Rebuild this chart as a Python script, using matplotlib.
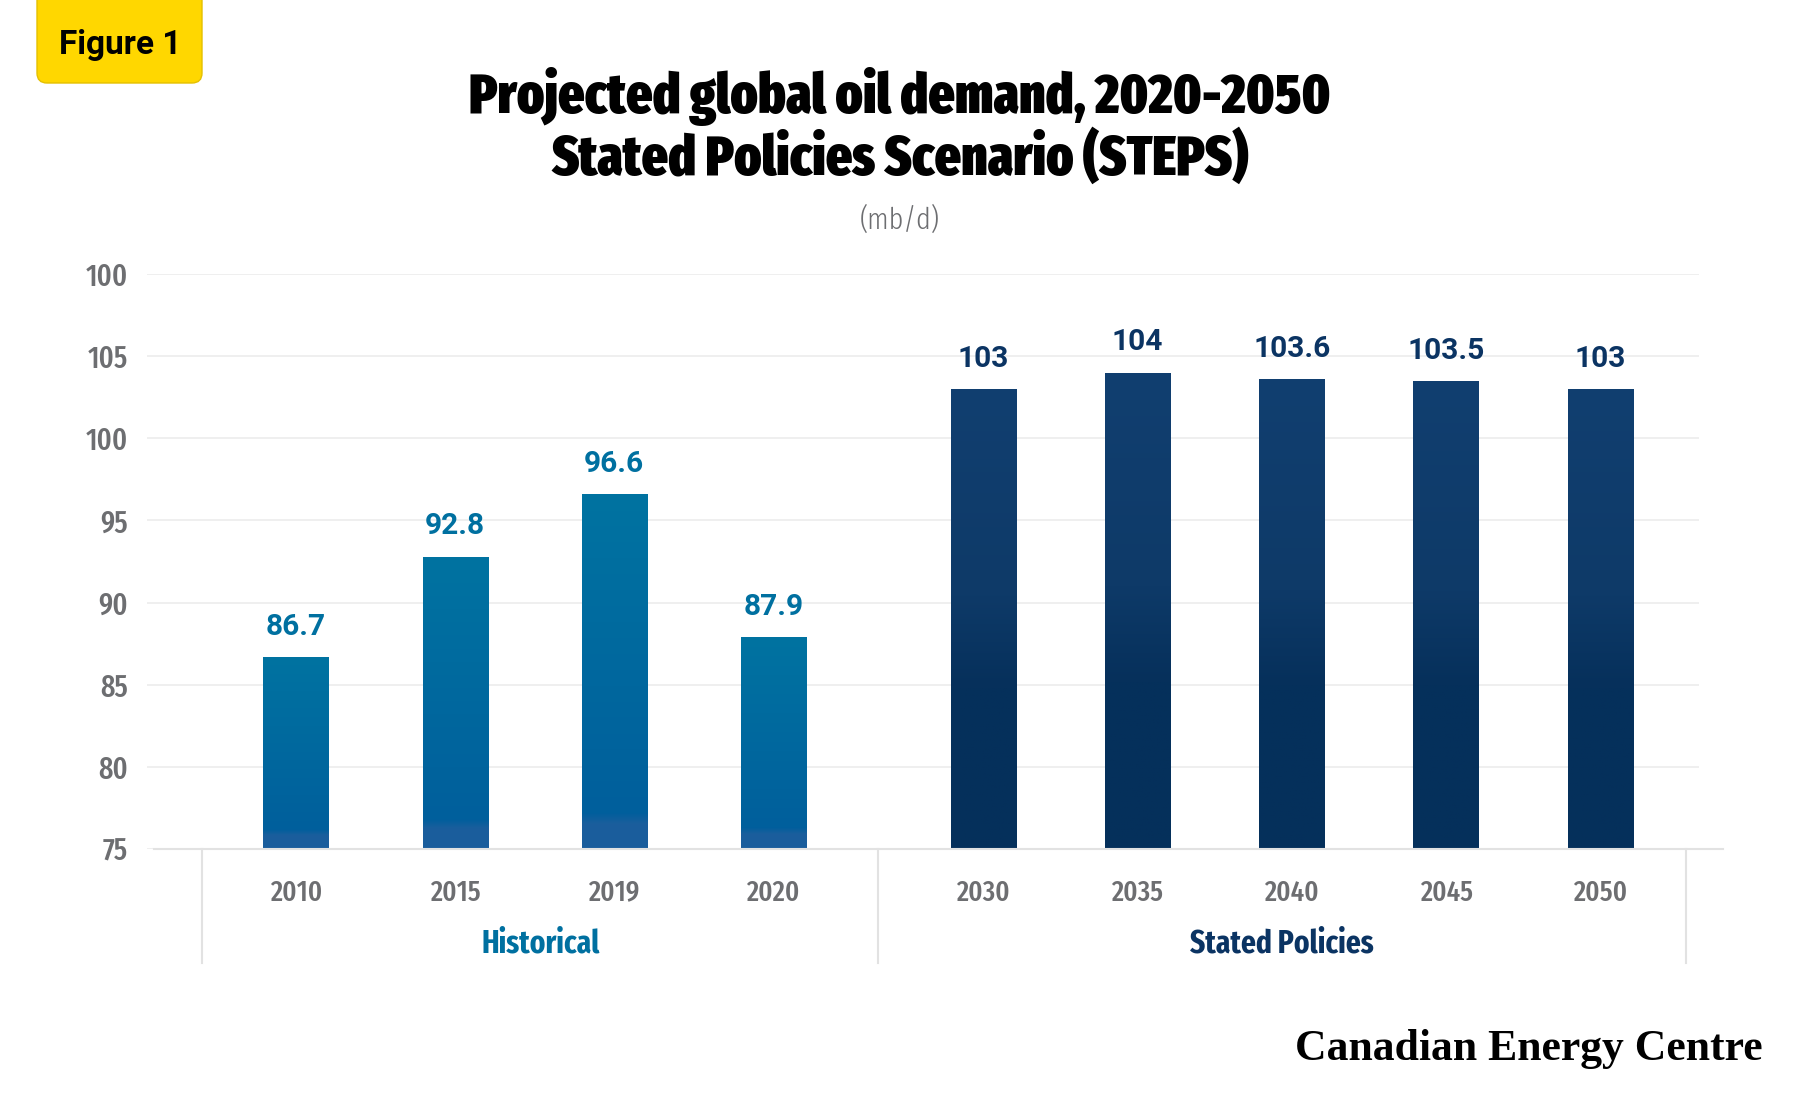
import matplotlib
matplotlib.use("Agg")
import matplotlib.pyplot as plt
import numpy as np
from matplotlib import font_manager as fm
from matplotlib.colors import LinearSegmentedColormap
from matplotlib.patches import FancyBboxPatch
import matplotlib.transforms as mtrans

# data
hist_years = ["2010", "2015", "2019", "2020"]
hist_vals = [86.7, 92.8, 96.6, 87.9]
steps_years = ["2030", "2035", "2040", "2045", "2050"]
steps_vals = [103, 104, 103.6, 103.5, 103]
group_names = ["Historical", "Stated Policies"]
y_ticks = [75, 80, 85, 90, 95, 100, 105, 110]
y_ticklabels = ["75", "80", "85", "90", "95", "100", "105", "100"]

# fonts: look for condensed faces, fall back to Roboto
names = {f.name for f in fm.fontManager.ttflist}
SANS = "Roboto" if "Roboto" in names else "Liberation Sans"
SERIF = "Liberation Serif" if "Liberation Serif" in names else "DejaVu Serif"


def wclass(name):
    n = name.replace(" ", "")
    if "ExtraCondensed" in n:
        return "extra"
    if "SemiCondensed" in n:
        return "semi"
    if "Condensed" in n or "Narrow" in n:
        return "cond"
    return None


def wnum(w):
    return w if isinstance(w, (int, float)) else fm.weight_dict.get(w, 400)


def cond_font(size, weight, widths=("extra", "cond", "semi")):
    cands = [f for f in fm.fontManager.ttflist
             if f.style == "normal" and wclass(f.name) in widths
             and f.fname.lower().endswith((".ttf", ".otf"))]
    if not cands:
        return fm.FontProperties(family=SANS, size=size, weight=weight)
    best = min(cands, key=lambda f: (widths.index(wclass(f.name)),
                                     abs(wnum(f.weight) - weight)))
    return fm.FontProperties(fname=best.fname, size=size)


GRAY = "#6D6E71"
HIST_C = "#0070A0"
STEPS_C = "#0B3463"
hist_cmap = LinearSegmentedColormap.from_list(
    "hist", [(0, "#0073A1"), (0.9, "#005F9C"), (0.93, "#1A5E9D"), (1, "#1B5D9C")])
steps_cmap = LinearSegmentedColormap.from_list(
    "steps", [(0, "#113F70"), (0.45, "#0E3A68"), (0.65, "#06305B"), (1, "#05305B")])

fig = plt.figure(figsize=(18, 11), dpi=100)
ax = fig.add_axes([147 / 1800, 1 - 849 / 1100, (1699 - 147) / 1800, (849 - 274) / 1100])

floor = y_ticks[0]
hist_x = np.arange(len(hist_vals)) * 1.0
steps_x = 4.32 + np.arange(len(steps_vals)) * 0.97
bw = 0.41


def gradient_bars(xs, vals, cmap, color):
    bars = ax.bar(xs, np.array(vals) - floor, bottom=floor, width=bw,
                  color=color, linewidth=0, zorder=2)
    grad = np.linspace(0, 1, 256).reshape(-1, 1)
    for b, v in zip(bars, vals):
        x0 = b.get_x()
        im = ax.imshow(grad, cmap=cmap, aspect="auto", zorder=3,
                       extent=(x0, x0 + b.get_width(), floor, v))
        im.set_clip_path(b)
        ax.annotate(f"{v:g}", (b.get_x() + b.get_width() / 2, v),
                    xytext=(0, 16), textcoords="offset points",
                    ha="center", va="baseline", fontsize=21.5,
                    fontweight="bold", family=SANS, color=color)


gradient_bars(hist_x, hist_vals, hist_cmap, HIST_C)
gradient_bars(steps_x, steps_vals, steps_cmap, STEPS_C)

ax.set_xlim(-0.937, 8.82)
ax.set_ylim(floor, y_ticks[-1])
ax.set_yticks(y_ticks)
ax.set_yticklabels(y_ticklabels)
ax.set_xticks(list(hist_x) + list(steps_x))
ax.set_xticklabels(hist_years + steps_years)
ax.tick_params(axis="y", length=0, pad=14, labelcolor=GRAY)
ax.tick_params(axis="x", length=0, pad=21, labelcolor=GRAY)
for lab in ax.get_yticklabels():
    lab.set_fontproperties(cond_font(22, 500))
for lab in ax.get_xticklabels():
    lab.set_fontproperties(cond_font(21, 500))
ax.yaxis.grid(True, color="#EEEEEE", lw=1.3, zorder=0)
ax.set_axisbelow(True)
for s in ax.spines.values():
    s.set_visible(False)

# baseline and group separators
tr = mtrans.blended_transform_factory(ax.transAxes, ax.transData)
ax.plot([0.0045, 1.0155], [floor, floor], transform=tr, color="#E2E2E2",
        lw=1.5, clip_on=False, zorder=4)
seps = [hist_x[0] - 0.59, (hist_x[-1] + steps_x[0]) / 2, steps_x[-1] + 0.54]
trv = mtrans.blended_transform_factory(ax.transData, ax.transAxes)
for sx in seps:
    ax.plot([sx, sx], [0, -0.198], transform=trv, color="#E2E2E2", lw=1.5,
            clip_on=False)
for i, (name, col) in enumerate(zip(group_names, [HIST_C, STEPS_C])):
    ax.text((seps[i] + seps[i + 1]) / 2, -0.165, name, transform=trv,
            ha="center", va="center", color=col,
            fontproperties=cond_font(23, 700))

# header
badge = FancyBboxPatch((0.37, 10.17), 1.65, 1.2, boxstyle="round,pad=0,rounding_size=0.1",
                       transform=fig.dpi_scale_trans, facecolor="#FFD700",
                       edgecolor="#E5C000", lw=1)
fig.patches.append(badge)
fig.text(1.20 / 18, 1 - 0.45 / 11, "Figure 1", ha="center", va="center",
         fontsize=24, fontweight="bold", family=SANS, color="black")
title_fp = cond_font(40, 900)
fig.text(0.5, 1 - 113 / 1100, "Projected global oil demand, 2020-2050",
         ha="center", va="baseline", fontproperties=title_fp)
fig.text(0.5, 1 - 175 / 1100, "Stated Policies Scenario (STEPS)",
         ha="center", va="baseline", fontproperties=title_fp)
fig.text(0.5, 1 - 220 / 1100, "(mb/d)", ha="center", va="center",
         color=GRAY, fontproperties=cond_font(22, 300))
fig.text(1763 / 1800, 1 - 1060 / 1100, "Canadian Energy Centre", ha="right",
         va="baseline", fontsize=31.5, fontweight="bold", family=SERIF)

fig.savefig("out.png", dpi=100, facecolor="white")
